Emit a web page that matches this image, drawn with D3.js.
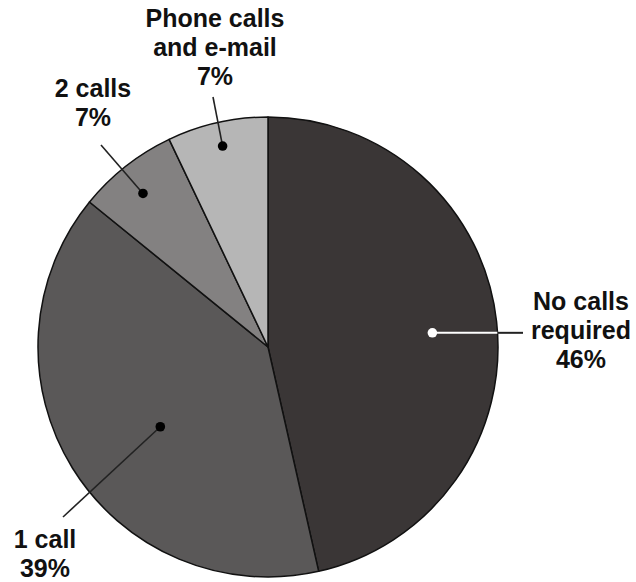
<!DOCTYPE html>
<html><head><meta charset="utf-8">
<script src="https://cdn.jsdelivr.net/npm/d3@7"></script>
<style>body{margin:0;background:#fff}svg{display:block}</style>
</head><body>
<svg id="c" width="636" height="582"></svg>
<script>
const categories = ["No calls required", "1 call", "2 calls", "Phone calls and e-mail"];
const values = [46, 39, 7, 7];
const labelLines = [["No calls", "required", "46%"], ["1 call", "39%"], ["2 calls", "7%"], ["Phone calls", "and e-mail", "7%"]];
const colors = ["#3a3636", "#5a5858", "#838181", "#b6b6b6"];

const svg = d3.select("#c");
const cx = 268, cy = 347, R = 230;
const g = svg.append("g").attr("transform", `translate(${cx},${cy})`);

const pie = d3.pie().sort(null).value(d => d)(values);
const arc = d3.arc().innerRadius(0).outerRadius(R);

g.selectAll("path.slice").data(pie).join("path")
  .attr("class", "slice")
  .attr("d", arc)
  .attr("fill", (d, i) => colors[i])
  .attr("stroke", "#111")
  .attr("stroke-width", 1.5)
  .attr("stroke-linejoin", "round");

// label layout (dot radius, angle offset, line end, text anchor point)
const layout = [
  { r: 165, da: 0.025, end: [523 - cx, 0], text: [581, 310], dot: "#fff", lineIn: "#fff" },
  { r: 134, da: -0.082, end: [63 - cx, 517 - cy], text: [45, 548], dot: "#000", lineIn: "#000" },
  { r: 198, da: -0.017, end: [101 - cx, 145 - cy], text: [93, 97], dot: "#000", lineIn: "#000" },
  { r: 206, da: 0.0, end: [213 - cx, 97 - cy], text: [215, 27], dot: "#000", lineIn: "#000" }
];

pie.forEach((d, i) => {
  const L = layout[i];
  const a = (d.startAngle + d.endAngle) / 2 + L.da;
  const px = L.r * Math.sin(a), py = -L.r * Math.cos(a);
  let ex = L.end[0], ey = L.end[1];
  if (i === 0) ey = py;
  if (i === 0) {
    // white inside the pie, black outside
    const xEdge = Math.sqrt(R * R - py * py);
    g.append("line").attr("x1", px).attr("y1", py).attr("x2", xEdge).attr("y2", py)
      .attr("stroke", "#fff").attr("stroke-width", 2);
    g.append("line").attr("x1", xEdge).attr("y1", py).attr("x2", ex).attr("y2", py)
      .attr("stroke", "#222").attr("stroke-width", 2);
  } else {
    g.append("line").attr("x1", px).attr("y1", py).attr("x2", ex).attr("y2", ey)
      .attr("stroke", "#222").attr("stroke-width", 1.6);
  }
  g.append("circle").attr("cx", px).attr("cy", py).attr("r", 4.8).attr("fill", L.dot);

  const t = svg.append("text")
    .attr("x", L.text[0]).attr("y", L.text[1])
    .attr("text-anchor", "middle")
    .attr("font-family", "'Liberation Sans', Arial, sans-serif")
    .attr("font-weight", "bold")
    .attr("font-size", 25)
    .attr("fill", "#111");
  labelLines[i].forEach((s, j) => {
    t.append("tspan").attr("x", L.text[0]).attr("y", L.text[1] + j * 29).text(s);
  });
});
</script>
</body></html>
